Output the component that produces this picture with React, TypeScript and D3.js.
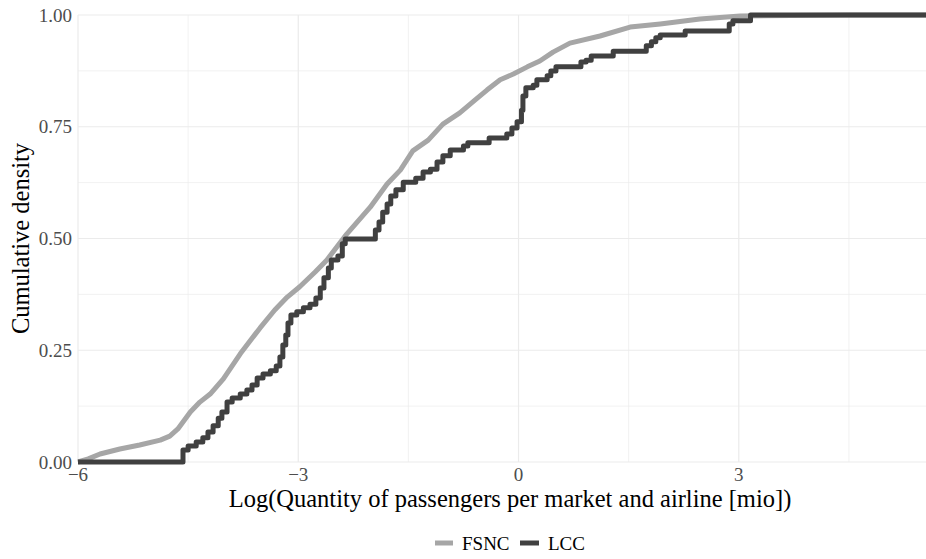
import React from "react";
import * as d3 from "d3";

// ecdf readings, log(passengers) vs cumulative share
const fsncX = [-6.0, -5.86, -5.7, -5.43, -5.16, -4.88, -4.75, -4.64, -4.47, -4.34, -4.2, -4.02, -3.79, -3.52, -3.32, -3.15, -2.98, -2.77, -2.61, -2.34, -2.02, -1.79, -1.61, -1.44, -1.23, -1.03, -0.8, -0.59, -0.43, -0.25, -0.07, 0.12, 0.29, 0.47, 0.7, 1.11, 1.52, 1.93, 2.47, 3.02, 4.52, 5.55];
const fsncY = [0.0, 0.007, 0.018, 0.029, 0.038, 0.049, 0.058, 0.074, 0.112, 0.134, 0.152, 0.186, 0.242, 0.3, 0.34, 0.369, 0.392, 0.425, 0.452, 0.51, 0.57, 0.622, 0.653, 0.696, 0.72, 0.756, 0.781, 0.81, 0.832, 0.855, 0.868, 0.884, 0.897, 0.917, 0.937, 0.953, 0.973, 0.98, 0.991, 0.998, 1.0, 1.0];

const lccX = [-6.0, -4.57, -4.5, -4.39, -4.3, -4.23, -4.16, -4.09, -4.04, -3.97, -3.9, -3.79, -3.7, -3.63, -3.56, -3.48, -3.38, -3.3, -3.25, -3.21, -3.17, -3.14, -3.1, -3.02, -2.93, -2.84, -2.76, -2.7, -2.65, -2.59, -2.55, -2.46, -2.4, -2.36, -1.95, -1.9, -1.85, -1.79, -1.74, -1.67, -1.57, -1.4, -1.3, -1.2, -1.11, -1.03, -0.93, -0.75, -0.69, -0.4, -0.16, -0.09, -0.02, 0.04, 0.06, 0.1, 0.2, 0.25, 0.39, 0.44, 0.51, 0.85, 0.92, 0.99, 1.29, 1.74, 1.81, 1.87, 1.93, 2.27, 2.87, 2.92, 3.16, 5.55];
const lccY = [0.0, 0.027, 0.036, 0.045, 0.054, 0.067, 0.081, 0.098, 0.112, 0.134, 0.143, 0.152, 0.161, 0.172, 0.188, 0.197, 0.204, 0.215, 0.235, 0.262, 0.284, 0.311, 0.329, 0.336, 0.345, 0.353, 0.367, 0.389, 0.412, 0.434, 0.452, 0.461, 0.488, 0.499, 0.519, 0.537, 0.559, 0.577, 0.595, 0.609, 0.626, 0.635, 0.649, 0.655, 0.671, 0.685, 0.698, 0.707, 0.714, 0.725, 0.734, 0.747, 0.761, 0.787, 0.819, 0.837, 0.843, 0.855, 0.864, 0.875, 0.884, 0.895, 0.899, 0.908, 0.919, 0.931, 0.94, 0.949, 0.955, 0.964, 0.98, 0.987, 1.0, 1.0];

const xMajor = [-6, -3, 0, 3];
const xMajorLabels = ["\u22126", "\u22123", "0", "3"];
const xMinor = [-4.5, -1.5, 1.5, 4.5];
const yMajor = [0, 0.25, 0.5, 0.75, 1];
const yMajorLabels = ["0.00", "0.25", "0.50", "0.75", "1.00"];
const yMinor = [0.125, 0.375, 0.625, 0.875];

const seriesNames = ["FSNC", "LCC"];
const seriesColors = ["#a6a6a6", "#404040"];

const W = 926;
const H = 559;
const left = 78;
const right = 926;
const top = 15;
const bottom = 462;
const font = "'Liberation Serif', 'Times New Roman', serif";

export default function App() {
  const x = d3.scaleLinear().domain([-6, 5.55]).range([left, right]);
  const y = d3.scaleLinear().domain([0, 1]).range([bottom, top]);

  const fsnc = fsncX.map((v, i) => [v, fsncY[i]] as [number, number]);
  const lcc = lccX.map((v, i) => [v, lccY[i]] as [number, number]);

  const smooth = d3.line<[number, number]>()
    .x(d => x(d[0]))
    .y(d => y(d[1]));
  const steps = d3.line<[number, number]>()
    .x(d => x(d[0]))
    .y(d => y(d[1]))
    .curve(d3.curveStepAfter);

  const grid = "#ebebeb";

  return (
    <svg width={W} height={H} style={{ position: "absolute", left: 0, top: 0, background: "#fff" }}>
      <g>
        {yMinor.map(v => (
          <line key={"ym" + v} x1={left} x2={right} y1={y(v)} y2={y(v)} stroke={grid} strokeWidth={0.7} />
        ))}
        {xMinor.map(v => (
          <line key={"xm" + v} x1={x(v)} x2={x(v)} y1={top} y2={bottom} stroke={grid} strokeWidth={0.7} />
        ))}
        {yMajor.map(v => (
          <line key={"yM" + v} x1={left} x2={right} y1={y(v)} y2={y(v)} stroke={grid} strokeWidth={1.2} />
        ))}
        {xMajor.map(v => (
          <line key={"xM" + v} x1={x(v)} x2={x(v)} y1={top} y2={bottom} stroke={grid} strokeWidth={1.2} />
        ))}
      </g>

      <path d={smooth(fsnc) || ""} fill="none" stroke={seriesColors[0]} strokeWidth={5} strokeLinejoin="round" />
      <path d={steps(lcc) || ""} fill="none" stroke={seriesColors[1]} strokeWidth={5} strokeLinejoin="round" />

      <g fontFamily={font} fontSize={19} fill="#4d4d4d">
        {yMajor.map((v, i) => (
          <text key={"yl" + v} x={72} y={y(v)} dy="0.35em" textAnchor="end">{yMajorLabels[i]}</text>
        ))}
        {xMajor.map((v, i) => (
          <text key={"xl" + v} x={x(v)} y={481} textAnchor="middle">{xMajorLabels[i]}</text>
        ))}
      </g>

      <text x={510} y={507} fontFamily={font} fontSize={24.5} textAnchor="middle" fill="#000">
        Log(Quantity of passengers per market and airline [mio])
      </text>
      <text transform={`translate(29,${(top + bottom) / 2}) rotate(-90)`} fontFamily={font} fontSize={24.5} textAnchor="middle" fill="#000">
        Cumulative density
      </text>

      <g fontFamily={font} fontSize={19} fill="#000">
        <line x1={435} x2={453} y1={543} y2={543} stroke={seriesColors[0]} strokeWidth={5} />
        <text x={462} y={549.5}>{seriesNames[0]}</text>
        <line x1={520} x2={539} y1={543} y2={543} stroke={seriesColors[1]} strokeWidth={5} />
        <text x={548} y={549.5}>{seriesNames[1]}</text>
      </g>
    </svg>
  );
}
